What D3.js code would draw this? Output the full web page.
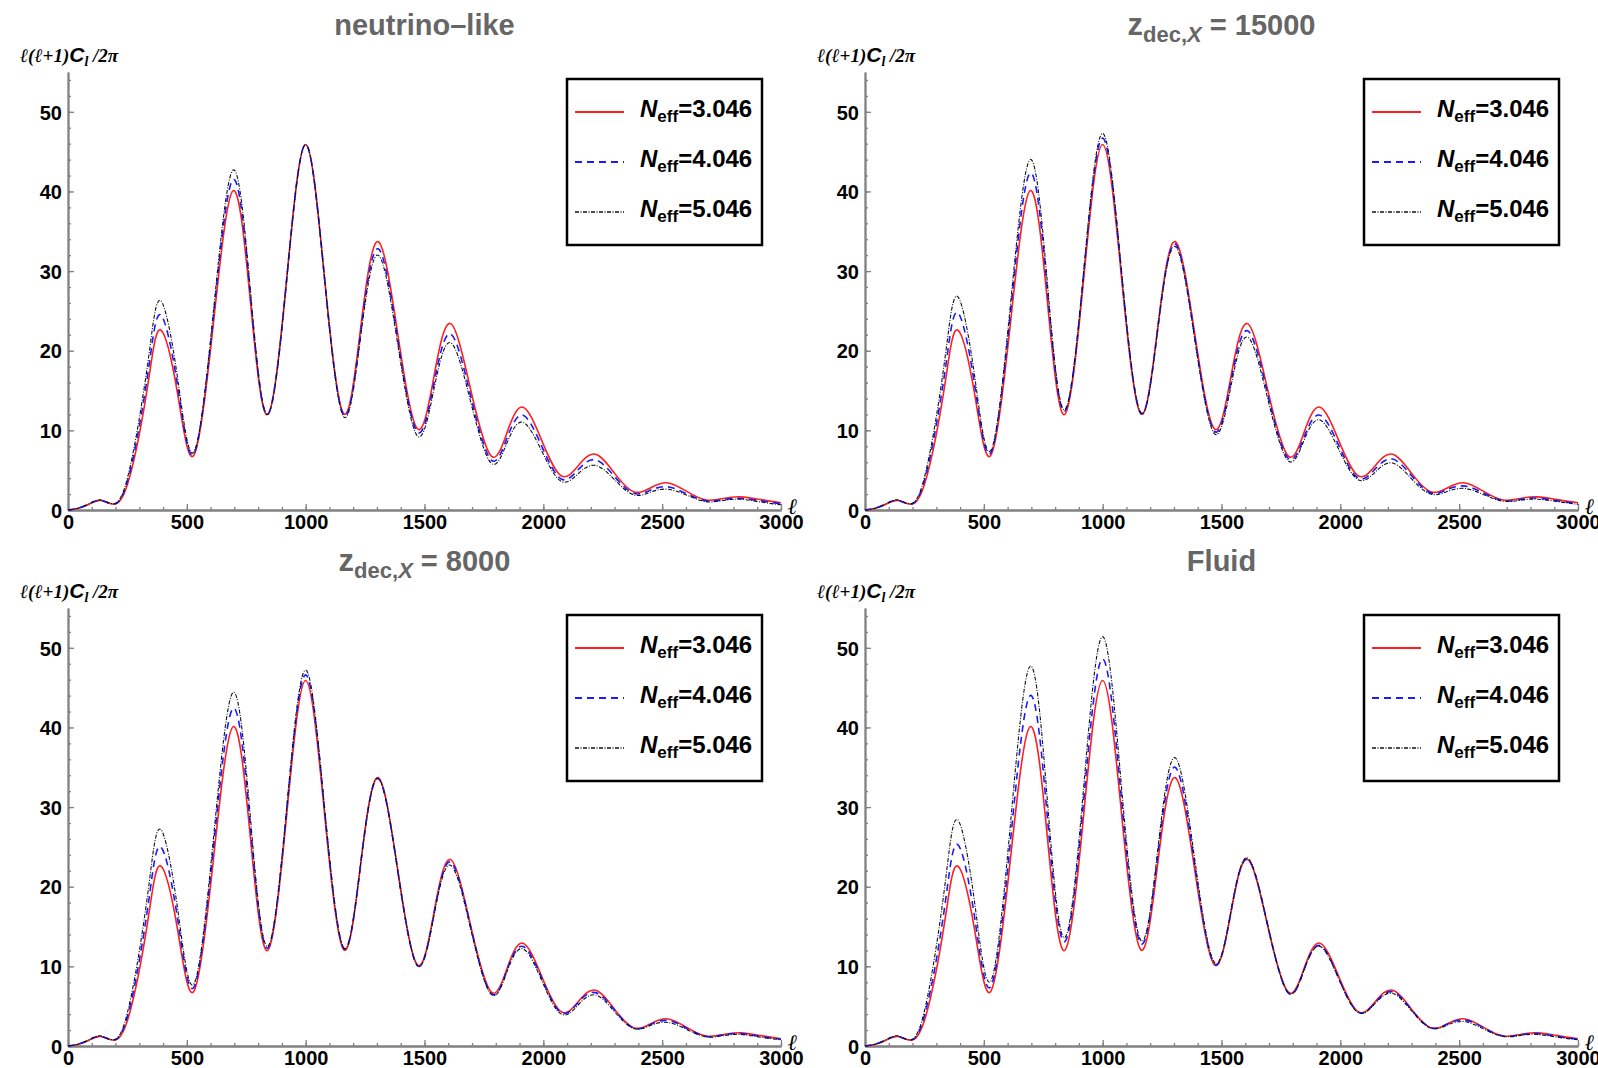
<!DOCTYPE html>
<html>
<head>
<meta charset="utf-8">
<script src="https://cdn.jsdelivr.net/npm/d3@7"></script>
<style>
  body { margin: 0; background: #fff; }
  .tick text { font-family: "Liberation Sans", Arial, sans-serif; font-weight: bold; font-size: 20px; fill: #000; }
</style>
</head>
<body>
<svg id="chart" width="1598" height="1068"></svg>
<script>
// multipole grid shared by every curve
var ell = [0, 40, 90, 140, 200, 250, 300, 345, 390, 460, 530, 612, 695, 768, 840, 920, 1000, 1080, 1160, 1232,
  1305, 1388, 1470, 1540, 1610, 1695, 1780, 1848, 1915, 1995, 2075, 2148, 2220, 2300, 2380, 2452, 2525, 2605,
  2685, 2758, 2830, 2915, 3000];

// Neff = 3.046 (red), same in all four panels
var neff3 = [0, 0.2, 0.75, 1.2, 0.75, 3.2, 9.5, 17.5, 22.6, 14.8, 6.9, 23.5, 40.1, 26.0, 12.0, 29.0, 45.9, 29.0, 12.1, 23.0,
  33.7, 22.0, 10.2, 16.8, 23.4, 15.0, 6.8, 9.8, 12.9, 8.6, 4.3, 5.6, 7.0, 4.6, 2.3, 2.8, 3.4, 2.3,
  1.25, 1.45, 1.65, 1.3, 0.9];

// neutrino-like
var nuBlue = [0, 0.2, 0.78, 1.2, 0.8, 3.6, 10.5, 19.0, 24.5, 15.8, 7.1, 24.3, 41.5, 26.8, 12.0, 28.9, 45.9, 28.9, 11.9, 22.4,
  32.8, 21.3, 9.8, 15.9, 22.1, 14.2, 6.3, 9.1, 11.9, 7.9, 3.9, 5.1, 6.3, 4.2, 2.1, 2.5, 2.9, 2.0,
  1.15, 1.3, 1.45, 1.15, 0.78];
var nuBlack = [0, 0.2, 0.8, 1.25, 0.85, 4.0, 11.5, 20.5, 26.3, 16.8, 7.3, 25.0, 42.7, 27.4, 12.0, 28.9, 45.9, 28.8, 11.7, 21.9,
  32.0, 20.7, 9.3, 15.2, 21.0, 13.5, 5.9, 8.5, 11.0, 7.3, 3.6, 4.6, 5.6, 3.8, 1.9, 2.25, 2.6, 1.85,
  1.05, 1.2, 1.35, 1.0, 0.65];

// z_dec,X = 15000
var z15Blue = [0, 0.2, 0.78, 1.2, 0.8, 3.7, 10.7, 19.2, 24.8, 16.0, 7.2, 24.8, 42.3, 27.4, 12.4, 29.6, 46.7, 29.5, 12.2, 22.8,
  33.4, 21.6, 9.9, 16.2, 22.5, 14.5, 6.5, 9.2, 11.9, 8.0, 4.0, 5.2, 6.4, 4.3, 2.15, 2.6, 3.0, 2.1,
  1.15, 1.33, 1.5, 1.15, 0.8];
var z15Black = [0, 0.2, 0.8, 1.25, 0.85, 4.1, 11.7, 21.0, 26.8, 17.1, 7.5, 25.8, 44.0, 28.3, 12.6, 30.0, 47.3, 29.8, 12.2, 22.7,
  33.1, 21.3, 9.6, 15.6, 21.7, 13.9, 6.2, 8.8, 11.3, 7.5, 3.8, 4.8, 5.9, 3.9, 2.0, 2.35, 2.7, 1.9,
  1.1, 1.23, 1.35, 1.05, 0.7];

// z_dec,X = 8000
var z8Blue = [0, 0.2, 0.78, 1.2, 0.8, 3.7, 10.7, 19.4, 25.0, 16.2, 7.4, 24.9, 42.4, 27.4, 12.3, 29.5, 46.6, 29.5, 12.3, 23.0,
  33.6, 21.9, 10.1, 16.6, 23.1, 14.9, 6.6, 9.6, 12.5, 8.4, 4.2, 5.5, 6.7, 4.5, 2.25, 2.7, 3.2, 2.2,
  1.2, 1.4, 1.55, 1.2, 0.85];
var z8Black = [0, 0.2, 0.8, 1.25, 0.85, 4.2, 11.9, 21.3, 27.2, 17.5, 7.8, 26.1, 44.4, 28.5, 12.5, 29.9, 47.2, 29.8, 12.3, 23.0,
  33.6, 21.9, 10.1, 16.4, 22.7, 14.6, 6.5, 9.4, 12.2, 8.1, 4.0, 5.2, 6.4, 4.3, 2.2, 2.6, 2.95, 2.05,
  1.15, 1.3, 1.45, 1.1, 0.78];

// Fluid
var fluidBlue = [0, 0.2, 0.78, 1.2, 0.8, 3.8, 10.8, 19.6, 25.3, 16.4, 7.5, 25.7, 44.0, 28.5, 13.1, 30.8, 48.6, 30.7, 12.9, 24.0,
  35.0, 22.6, 10.3, 16.9, 23.5, 15.1, 6.7, 9.6, 12.6, 8.4, 4.25, 5.5, 6.8, 4.55, 2.3, 2.8, 3.25, 2.25,
  1.25, 1.4, 1.55, 1.2, 0.85];
var fluidBlack = [0, 0.2, 0.8, 1.25, 0.85, 4.4, 12.5, 22.3, 28.4, 18.3, 8.2, 27.9, 47.7, 30.6, 13.6, 32.5, 51.4, 32.3, 13.3, 24.7,
  36.2, 23.3, 10.5, 17.0, 23.6, 15.1, 6.7, 9.6, 12.5, 8.3, 4.2, 5.4, 6.6, 4.4, 2.25, 2.65, 3.05, 2.1,
  1.2, 1.33, 1.45, 1.1, 0.78];

var xTicks = [0, 500, 1000, 1500, 2000, 2500, 3000];
var yTicks = [0, 10, 20, 30, 40, 50];
var legendLabels = ["3.046", "4.046", "5.046"];

var panels = [
  { title: "neutrino–like", z: null, blue: nuBlue, black: nuBlack, left: 68, top: 72 },
  { title: null, z: "15000", blue: z15Blue, black: z15Black, left: 865, top: 72 },
  { title: null, z: "8000", blue: z8Blue, black: z8Black, left: 68, top: 608 },
  { title: "Fluid", z: null, blue: fluidBlue, black: fluidBlack, left: 865, top: 608 }
];

var plotW = 713;
var plotH = 438;
var titleColor = "#666";
var axisColor = "#808080";

var styles = [
  { color: "#ff1f1f", width: 1.6, dash: null },
  { color: "#1a1aff", width: 1.6, dash: "7,5" },
  { color: "#111", width: 1.1, dash: "4,1.5,1,1.5" }
];

var svg = d3.select("#chart");

var x = d3.scaleLinear().domain([0, 3000]).range([0, plotW]);
var y = d3.scaleLinear().domain([0, 55]).range([plotH, 0]);

var line = d3.line()
  .x((d) => x(d[0]))
  .y((d) => y(d[1]))
  .curve(d3.curveNatural);

panels.forEach(function (p) {
  var g = svg.append("g").attr("transform", `translate(${p.left}, ${p.top})`);

  /* title */
  var t = svg.append("text")
    .attr("x", p.left + plotW / 2)
    .attr("y", p.top - 37)
    .attr("text-anchor", "middle")
    .style("font-family", "'Liberation Sans', Arial, sans-serif")
    .style("font-weight", "bold")
    .style("font-size", "29px")
    .style("fill", titleColor);
  if (p.title) {
    t.text(p.title);
  } else {
    t.append("tspan").style("font-size", "31px").text("z");
    t.append("tspan").attr("dy", 7).style("font-size", "22px").text("dec,");
    t.append("tspan").style("font-size", "22px").style("font-style", "italic").text("X");
    t.append("tspan").attr("dy", -7).text(" = " + p.z);
  }

  /* y label */
  var yl = svg.append("text")
    .attr("x", p.left - 48)
    .attr("y", p.top - 10)
    .style("font-family", "'Liberation Serif', 'DejaVu Serif', serif")
    .style("font-weight", "bold")
    .style("font-style", "italic")
    .style("font-size", "19px");
  yl.append("tspan").text("ℓ(ℓ+1)");
  yl.append("tspan").style("font-family", "'Liberation Sans', Arial, sans-serif").style("font-size", "21px").text("C");
  yl.append("tspan").attr("dy", 4).style("font-size", "14px").text("l");
  yl.append("tspan").attr("dy", -4).text(" /2π");

  /* axes */
  var xMinor = d3.axisBottom(x).tickValues(d3.range(0, 3001, 100)).tickFormat("").tickSizeInner(-3).tickSizeOuter(0);
  var yMinor = d3.axisLeft(y).tickValues(d3.range(0, 55, 2)).tickFormat("").tickSizeInner(-3).tickSizeOuter(0);
  var xAxis = d3.axisBottom(x).tickValues(xTicks).tickFormat(d3.format("d"))
    .tickSizeInner(-6).tickSizeOuter(0).tickPadding(3);
  var yAxis = d3.axisLeft(y).tickValues(yTicks).tickFormat(d3.format("d"))
    .tickSizeInner(-6).tickSizeOuter(0).tickPadding(6);

  g.append("g").attr("transform", `translate(0, ${plotH})`).call(xMinor);
  g.append("g").call(yMinor);
  g.append("g").attr("class", "x axis").attr("transform", `translate(0, ${plotH})`).call(xAxis);
  g.append("g").attr("class", "y axis").call(yAxis);
  g.selectAll(".domain, .tick line").attr("stroke", axisColor).attr("stroke-width", 1.3);
  g.selectAll(".domain").attr("stroke-width", 1.8);
  g.selectAll(".x.axis .tick text").attr("dy", "0.78em");
  g.selectAll(".y.axis .tick text").attr("dy", "0.36em");

  g.append("text")
    .attr("x", plotW + 7)
    .attr("y", plotH + 4)
    .style("font-family", "'Liberation Serif', 'DejaVu Serif', serif")
    .style("font-style", "italic")
    .style("font-weight", "bold")
    .style("font-size", "22px")
    .text("ℓ");

  /* curves */
  var series = [neff3, p.blue, p.black];
  series.forEach(function (vals, i) {
    g.append("path")
      .attr("d", line(ell.map((l, j) => [l, vals[j]])))
      .attr("fill", "none")
      .attr("stroke", styles[i].color)
      .attr("stroke-width", styles[i].width)
      .attr("stroke-dasharray", styles[i].dash);
  });

  /* legend */
  var lg = g.append("g").attr("transform", "translate(499, 7)");
  lg.append("rect")
    .attr("width", 195)
    .attr("height", 166)
    .attr("fill", "#fff")
    .attr("stroke", "#000")
    .attr("stroke-width", 2.5);
  legendLabels.forEach(function (lab, i) {
    var yy = 33 + i * 50;
    lg.append("line")
      .attr("x1", 8).attr("x2", 57)
      .attr("y1", yy).attr("y2", yy)
      .attr("stroke", styles[i].color)
      .attr("stroke-width", styles[i].width + 0.4)
      .attr("stroke-dasharray", styles[i].dash);
    var tx = lg.append("text")
      .attr("x", 73)
      .attr("y", yy + 5)
      .style("font-family", "'Liberation Sans', Arial, sans-serif")
      .style("font-weight", "bold")
      .style("font-size", "24px");
    tx.append("tspan").style("font-style", "italic").text("N");
    tx.append("tspan").attr("dy", 5).style("font-size", "17px").text("eff");
    tx.append("tspan").attr("dy", -5).text("=" + lab);
  });
});
</script>
</body>
</html>
